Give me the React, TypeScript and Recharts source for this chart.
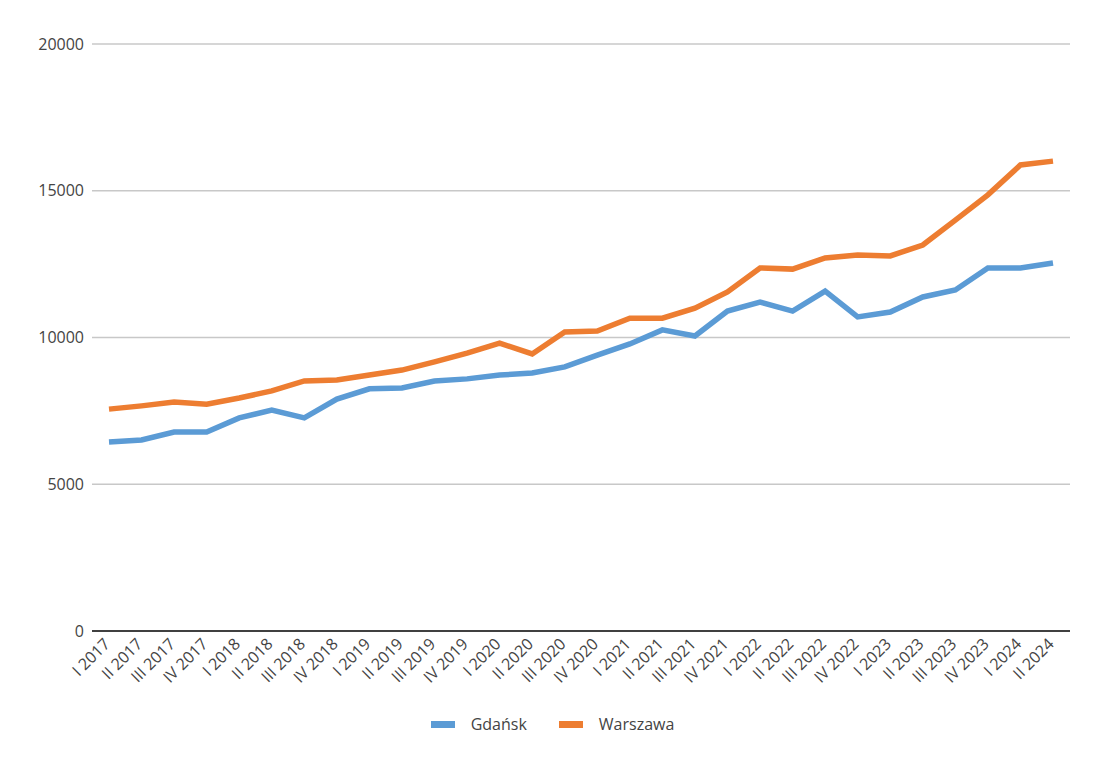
import React from 'react';
import { LineChart, Line, CartesianGrid, XAxis, YAxis, Legend } from 'recharts';

const quarters = [
  'I 2017', 'II 2017', 'III 2017', 'IV 2017',
  'I 2018', 'II 2018', 'III 2018', 'IV 2018',
  'I 2019', 'II 2019', 'III 2019', 'IV 2019',
  'I 2020', 'II 2020', 'III 2020', 'IV 2020',
  'I 2021', 'II 2021', 'III 2021', 'IV 2021',
  'I 2022', 'II 2022', 'III 2022', 'IV 2022',
  'I 2023', 'II 2023', 'III 2023', 'IV 2023',
  'I 2024', 'II 2024',
];

const gdansk = [
  6440, 6510, 6780, 6780, 7260, 7530, 7260, 7900, 8250, 8280,
  8520, 8590, 8720, 8790, 9000, 9400, 9780, 10260, 10050, 10900,
  11210, 10900, 11580, 10700, 10870, 11380, 11620, 12370, 12370, 12540,
];

const warszawa = [
  7560, 7670, 7800, 7730, 7940, 8180, 8520, 8550, 8720, 8890,
  9170, 9470, 9810, 9440, 10190, 10220, 10660, 10660, 11000, 11550,
  12370, 12330, 12710, 12810, 12780, 13150, 14000, 14860, 15880, 16010,
];

const yTicks = [0, 5000, 10000, 15000, 20000];

const seriesInfo = [
  { key: 'Gdańsk', color: '#5B9BD5' },
  { key: 'Warszawa', color: '#ED7D31' },
];

const data = quarters.map((q, i) => ({ quarter: q, 'Gdańsk': gdansk[i], Warszawa: warszawa[i] }));

const font = '"Open Sans", sans-serif';
const textColor = '#444444';

const QuarterTick = (props: any) => {
  const { x, y, payload } = props;
  const ax = x + 2;
  const ay = y + 6;
  return (
    <text
      x={ax}
      y={ay}
      transform={`rotate(-45, ${ax}, ${ay})`}
      textAnchor='end'
      fontSize={16}
      fontFamily={font}
      fill={textColor}
    >
      {payload.value}
    </text>
  );
};

const LegendBox = () => (
  <div style={{ display: 'flex', justifyContent: 'center', fontFamily: font, fontSize: 16, color: textColor }}>
    {seriesInfo.map((s, i) => (
      <div key={s.key} style={{ display: 'flex', alignItems: 'center', marginRight: i < seriesInfo.length - 1 ? 32 : 0 }}>
        <span style={{ width: 24, height: 7, background: s.color, display: 'inline-block', marginRight: 16 }} />
        <span>{s.key}</span>
      </div>
    ))}
  </div>
);

const App: React.FC = () => {
  return (
    <div style={{ position: 'absolute', left: 0, top: 0, width: 1105, height: 773, background: '#fff' }}>
      <LineChart width={1105} height={773} data={data} margin={{ top: 44, right: 35, left: 0, bottom: 82 }}>
        <CartesianGrid vertical={false} stroke='#C8C8C8' strokeWidth={1.5} />
        <XAxis
          dataKey='quarter'
          interval={0}
          height={60}
          padding={{ left: 17, right: 17 }}
          tick={<QuarterTick />}
          tickLine={false}
          axisLine={{ stroke: '#404040', strokeWidth: 2 }}
        />
        <YAxis
          width={92}
          domain={[0, 20000]}
          ticks={yTicks}
          tickLine={false}
          axisLine={false}
          tick={{ fill: textColor, fontSize: 16, fontFamily: font }}
        />
        {seriesInfo.map((s) => (
          <Line
            key={s.key}
            type='linear'
            dataKey={s.key}
            stroke={s.color}
            strokeWidth={5.5}
            dot={false}
            isAnimationActive={false}
          />
        ))}
        <Legend
          layout='horizontal'
          verticalAlign='middle'
          content={<LegendBox />}
          wrapperStyle={{ top: 713, left: 0, width: 1105 }}
        />
      </LineChart>
    </div>
  );
};

export default App;
